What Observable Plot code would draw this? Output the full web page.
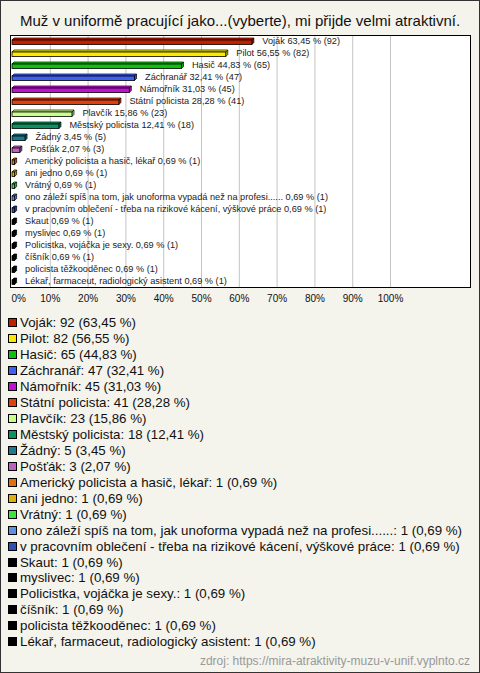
<!DOCTYPE html>
<html><head><meta charset="utf-8">
<script src="https://cdn.jsdelivr.net/npm/d3@7"></script>
<script src="https://cdn.jsdelivr.net/npm/@observablehq/plot@0.6"></script>
<style>
body{margin:0;}
#wrap{position:relative;width:480px;height:673px;background:#f4f3ec;box-shadow:inset 0 0 0 1px #333;font-family:"Liberation Sans",Arial,sans-serif;color:#111;overflow:hidden}
#title{position:absolute;top:12px;left:0;width:480px;text-align:center;font-size:15px;line-height:18px}
#chart{position:absolute;top:30px;left:0}
#legend{position:absolute;top:315px;left:8px}
.item{height:15.95px;font-size:13.3px;white-space:nowrap;display:flex;align-items:center}
.sw{width:7px;height:7px;border:1px solid #000;margin-right:3px;flex:none}
#footer{position:absolute;right:10px;top:654px;font-size:12px;color:#999}
</style></head>
<body>
<div id="wrap">
  <div id="title">Muž v uniformě pracující jako...(vyberte), mi přijde velmi atraktivní.</div>
  <div id="chart"></div>
  <div id="legend"></div>
  <div id="footer">zdroj: https://mira-atraktivity-muzu-v-unif.vyplnto.cz</div>
</div>
<script>
const categories = [
  "Voják", "Pilot", "Hasič", "Záchranář", "Námořník", "Státní policista",
  "Plavčík", "Městský policista", "Žádný", "Pošťák",
  "Americký policista a hasič, lékař", "ani jedno", "Vrátný",
  "ono záleží spíš na tom, jak unoforma vypadá než na profesi......",
  "v pracovním oblečení - třeba na rizikové kácení, výškové práce",
  "Skaut", "myslivec", "Policistka, vojáčka je sexy.", "číšník",
  "policista těžkooděnec", "Lékař, farmaceut, radiologický asistent"
];
const counts = [92, 82, 65, 47, 45, 41, 23, 18, 5, 3, 1, 1, 1, 1, 1, 1, 1, 1, 1, 1, 1];
const percents = [63.45, 56.55, 44.83, 32.41, 31.03, 28.28, 15.86, 12.41, 3.45, 2.07,
  0.69, 0.69, 0.69, 0.69, 0.69, 0.69, 0.69, 0.69, 0.69, 0.69, 0.69];
const colors = [
  "#c02000", "#ffe800", "#10c010", "#4060f0", "#c010d0", "#e04010",
  "#c8ff88", "#109060", "#1e7890", "#c060c0", "#e07010", "#e0b010",
  "#40e040", "#6090e0", "#3050b0", "#000000", "#000000", "#000000",
  "#000000", "#000000", "#000000"
];
const xTicks = [0, 10, 20, 30, 40, 50, 60, 70, 80, 90, 100];

const fmt = v => v.toFixed(2).replace(".", ",");
const rows = categories.map((c, i) => ({cat: c, pct: percents[i], n: counts[i], color: colors[i]}));

function bars3d(index, scales) {
  const g = d3.create("svg:g");
  const bw = scales.y.bandwidth ? scales.y.bandwidth() : 12;
  const x0 = scales.x(0);
  const dep = 2;
  rows.forEach(d => {
    const x1 = scales.x(d.pct);
    const c = scales.y(d.cat) + bw / 2;
    const ft = c - 1, fb = c + 3.5;
    const col = d3.color(d.color);
    g.append("path")
      .attr("d", `M${x0},${ft}L${x0 + dep},${ft - dep}L${x1 + dep},${ft - dep}L${x1},${ft}Z`)
      .attr("fill", col.brighter(0.2)).attr("stroke", "#000").attr("stroke-width", 0.7);
    g.append("path")
      .attr("d", `M${x1},${ft}L${x1 + dep},${ft - dep}L${x1 + dep},${fb - dep}L${x1},${fb}Z`)
      .attr("fill", col.darker(0.4)).attr("stroke", "#000").attr("stroke-width", 0.7);
    g.append("rect")
      .attr("x", x0).attr("y", ft).attr("width", x1 - x0).attr("height", fb - ft)
      .attr("fill", d.color).attr("stroke", "#000").attr("stroke-width", 0.8);
  });
  return g.node();
}

const plot = Plot.plot({
  width: 480, height: 282,
  marginTop: 5, marginBottom: 25, marginLeft: 10, marginRight: 10,
  style: {background: "transparent", fontFamily: "Liberation Sans, Arial, sans-serif", overflow: "visible"},
  x: {domain: [-0.53, 121.16], axis: null},
  y: {domain: categories, type: "band", padding: 0, axis: null},
  marks: [
    Plot.frame({fill: "white", stroke: "none"}),
    Plot.ruleX(xTicks.filter(t => t > 0), {x: d => d, stroke: "#c4c4c4", strokeWidth: 1}),
    Plot.frame({stroke: "#000", strokeWidth: 1}),
    bars3d,
    Plot.text(rows, {
      x: "pct", y: "cat",
      text: d => `${d.cat} ${fmt(d.pct)} % (${d.n})`,
      textAnchor: "start", dx: 10, dy: -0.5, fontSize: 9.2, fill: "#222"
    }),
    Plot.text(xTicks.filter(t => t > 0), {
      x: d => d, frameAnchor: "bottom", dy: 14, text: d => d + "%",
      fontSize: 10, fill: "#111"
    }),
    Plot.text(xTicks.filter(t => t === 0), {
      x: d => d, frameAnchor: "bottom", dy: 14, dx: -1, text: d => d + "%",
      textAnchor: "start", fontSize: 10, fill: "#111"
    })
  ]
});
document.getElementById("chart").appendChild(plot);

const legend = d3.select("#legend");
rows.forEach(d => {
  const it = legend.append("div").attr("class", "item");
  it.append("div").attr("class", "sw").style("background", d.color);
  it.append("span").text(`${d.cat}: ${d.n} (${fmt(d.pct)} %)`);
});
</script>
</body></html>
